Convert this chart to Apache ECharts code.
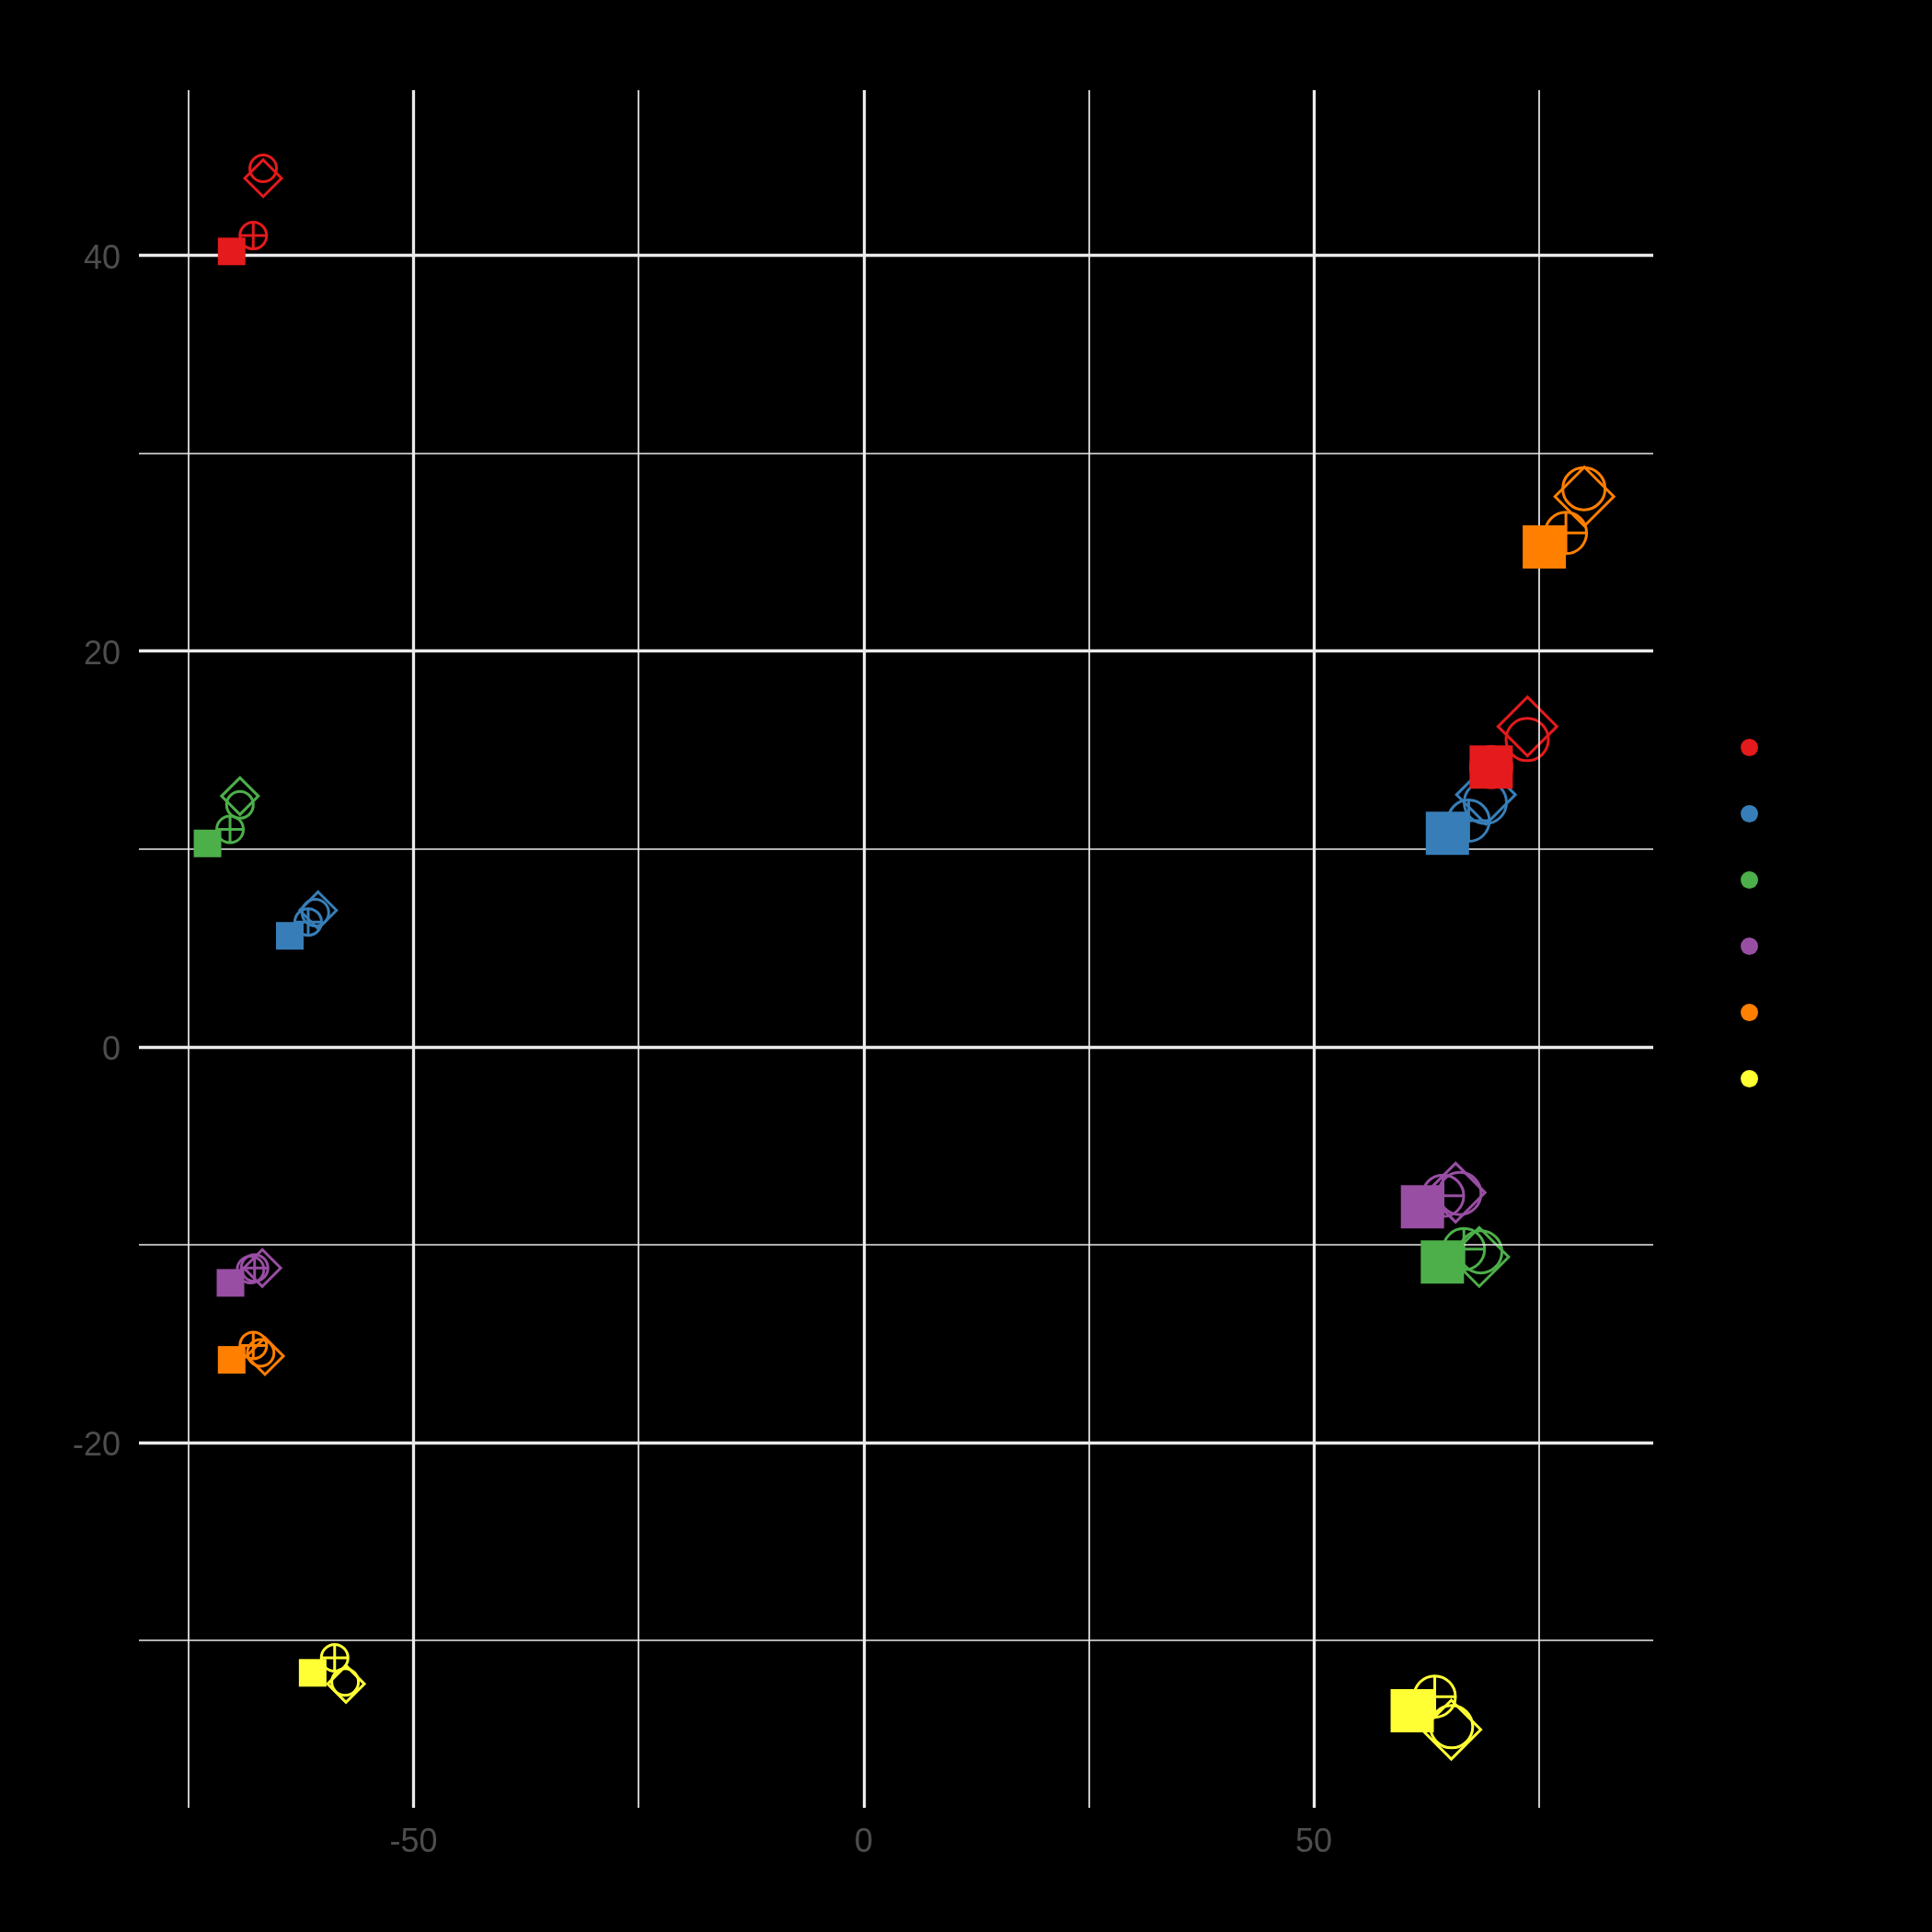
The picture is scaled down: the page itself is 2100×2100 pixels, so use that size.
<!DOCTYPE html>
<html><head><meta charset="utf-8">
<script src="https://cdn.jsdelivr.net/npm/echarts@6/dist/echarts.min.js"></script>
<style>html,body{margin:0;padding:0;background:#000;}#c{width:2100px;height:2100px;}</style>
</head><body><div id="c"></div>
<script>
// groups (colour legend) – labels are drawn black on black in the reference
const groups = ['1', '2', '3', '4', '5', '6'];
const colors = ['#E41A1C', '#377EB8', '#4DAF4A', '#984EA3', '#FF7F00', '#FFFF33'];

// tick / grid values
const xMajor = [-50, 0, 50];
const xMinor = [-75, -25, 25, 75];
const yMajor = [-20, 0, 20, 40];
const yMinor = [-30, -10, 10, 30];

// small cluster (left), order: red, blue, green, purple, orange, yellow
const squareSmall  = [[-70.2, 40.2], [-63.74, 5.61], [-72.88, 10.28], [-70.33, -11.93], [-70.2, -15.82], [-61.2, -31.64]];
const crossSmall   = [[-67.8, 41.0], [-61.7, 6.31], [-70.38, 10.99], [-67.65, -11.18], [-67.8, -15.09], [-58.76, -30.88]];
const circleSmall  = [[-66.7, 44.4], [-60.9, 6.78], [-69.28, 12.23], [-68.1, -11.26], [-66.98, -15.47], [-57.6, -32.1]];
const diamondSmall = [[-66.7, 43.9], [-60.6, 6.9], [-69.28, 12.67], [-66.8, -11.18], [-66.5, -15.63], [-57.5, -32.2]];

// large cluster (right)
const squareLarge  = [[69.7, 14.14], [64.84, 10.79], [64.28, -10.88], [62.07, -8.09], [75.6, 25.27], [60.93, -33.55]];
const crossLarge   = [[69.7, 14.14], [67.2, 11.43], [66.67, -10.23], [64.35, -7.53], [78.0, 25.97], [63.43, -32.84]];
const circleLarge  = [[73.7, 15.53], [69.05, 12.35], [68.54, -10.36], [66.22, -7.41], [80.0, 28.21], [65.3, -34.36]];
const diamondLarge = [[73.73, 16.19], [69.12, 12.74], [68.37, -10.62], [65.75, -7.37], [80.05, 27.81], [65.27, -34.51]];

const crossPath = 'path://M50,0 A50,50 0 1,1 50,100 A50,50 0 1,1 50,0 Z M0,50 L100,50 M50,0 L50,100';

const shapes = [
  { symbol: 'diamond', small: diamondSmall, large: diamondLarge, filled: false, sizes: [40, 64], z: 2 },
  { symbol: 'circle', small: circleSmall, large: circleLarge, filled: false, sizes: [29, 46], z: 3 },
  { symbol: crossPath, small: crossSmall, large: crossLarge, filled: false, sizes: [29, 45], z: 4 },
  { symbol: 'rect', small: squareSmall, large: squareLarge, filled: true, sizes: [30, 47], z: 5 }
];

const series = [];
function gridSeries(xs, ys, width) {
  return {
    type: 'scatter', data: [], z: 1, silent: true,
    markLine: {
      silent: true, symbol: ['none', 'none'], label: { show: false }, animation: false,
      lineStyle: { color: '#ebebeb', width: width, type: 'solid' },
      emphasis: { disabled: true },
      data: xs.map(v => ({ xAxis: v })).concat(ys.map(v => ({ yAxis: v })))
    }
  };
}
series.push(gridSeries(xMinor, yMinor, 1.7));
series.push(gridSeries(xMajor, yMajor, 3.3));

shapes.forEach(sh => {
  groups.forEach((g, i) => {
    const c = colors[i];
    series.push({
      type: 'scatter',
      name: g,
      z: sh.z,
      symbol: sh.symbol,
      data: [
        { value: sh.small[i], symbolSize: sh.sizes[0] },
        { value: sh.large[i], symbolSize: sh.sizes[1] }
      ],
      itemStyle: sh.filled
        ? { color: c, borderWidth: 0, opacity: 1 }
        : { color: 'rgba(0,0,0,0)', borderColor: c, borderWidth: 3, opacity: 1 },
      emphasis: { disabled: true }
    });
  });
});

const labelFont = { color: '#4d4d4d', fontSize: 36, fontFamily: 'Liberation Sans' };

const chart = echarts.init(document.getElementById('c'), null, { renderer: 'canvas' });
chart.setOption({
  backgroundColor: '#000000',
  animation: false,
  grid: { left: 151, right: 303, top: 98, bottom: 135, containLabel: false, outerBoundsMode: 'none' },
  xAxis: {
    type: 'value', min: -80.5, max: 87.7,
    axisLine: { show: false }, axisTick: { show: false }, splitLine: { show: false },
    axisLabel: Object.assign({ customValues: xMajor, margin: 20 }, labelFont)
  },
  yAxis: {
    type: 'value', min: -38.46, max: 48.35,
    axisLine: { show: false }, axisTick: { show: false }, splitLine: { show: false },
    axisLabel: Object.assign({
      customValues: yMajor, margin: 20,
      formatter: '{v|{value}}',
      rich: { v: Object.assign({ padding: [8, 0, 0, 0] }, labelFont) }
    }, labelFont)
  },
  legend: {
    orient: 'vertical', left: 1892, top: 803, padding: 0, itemWidth: 19, itemHeight: 19, itemGap: 53,
    selectedMode: false, icon: 'circle',
    textStyle: { color: '#000000', fontSize: 14, lineHeight: 19, fontFamily: 'Liberation Sans' },
    data: groups.map((g, i) => ({ name: g, icon: 'circle', itemStyle: { color: colors[i], borderWidth: 0 } }))
  },
  series: series
});
</script>
</body></html>
